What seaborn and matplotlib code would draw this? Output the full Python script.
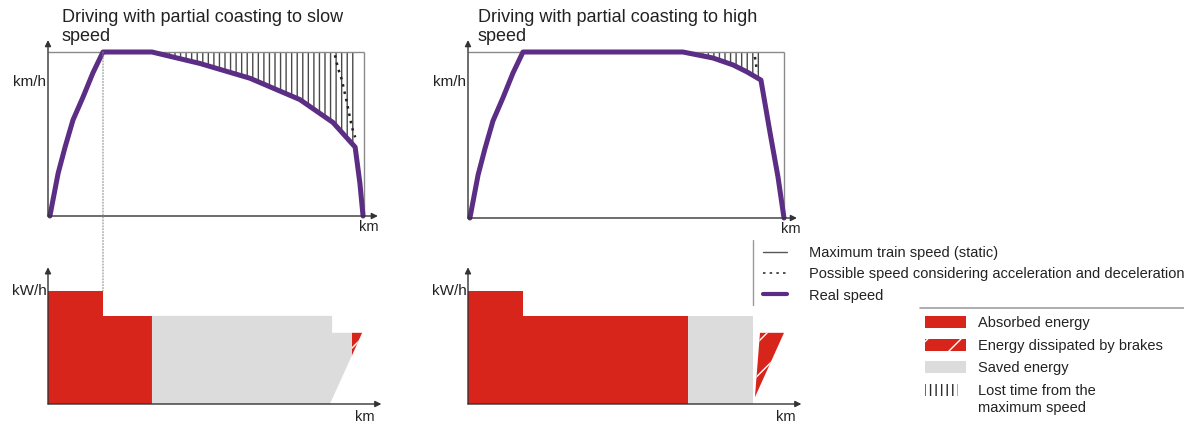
import matplotlib
matplotlib.use('Agg')
import matplotlib.pyplot as plt
from matplotlib.patches import Patch, ConnectionPatch, Rectangle
from matplotlib.lines import Line2D
from matplotlib.legend_handler import HandlerPatch
import numpy as np
import seaborn as sns

# speed profiles: distance (% of line length) vs speed (% of max speed)
slow_km = np.array([0.6, 1.6, 3.2, 5.4, 7.9, 11.1, 14.2, 17.4, 32.9, 48.1, 63.9,
                    79.7, 90.2, 97.2, 98.7, 99.7])
slow_kmh = np.array([0, 10, 26, 42, 58.5, 72.6, 87.2, 100, 100, 93, 84, 71, 57, 42, 20, 0])
fast_km = np.array([0.6, 1.6, 3.2, 5.4, 7.9, 11.1, 14.2, 17.4, 68.0, 77.5, 83.9,
                    88.3, 92.7, 95.6, 98.1, 100])
fast_kmh = np.array([0, 10, 26, 42, 58.5, 72.6, 87.2, 100, 100, 96.4, 92.2, 88, 83.1,
                     51.2, 24.7, 0])

# possible speed considering deceleration (dotted)
slow_dot_km = [90.8, 91.8, 93.0, 94.6, 96.2, 97.2]
slow_dot_kmh = [98, 90, 83, 69, 54, 48]
fast_dot_km = [90.8, 91.5]
fast_dot_kmh = [97, 88]

# coasting stretch (lost time hatching)
slow_coast = (32.9, 97.2)
fast_coast = (68.0, 92.7)

line_km = 100
v_max = 100

# energy diagrams (km, kW/h)
slow_absorbed_x = [0, 0, 17.4, 17.4, 32.9, 32.9]
slow_absorbed_y = [0, 100, 100, 78, 78, 0]
slow_saved_x = [32.9, 32.9, 89.9, 89.9, 96.2, 96.2, 89.2]
slow_saved_y = [0, 78, 78, 63, 63, 43, 0]
slow_brake_x = [96.2, 99.4, 96.2]
slow_brake_y = [63, 63, 43]

fast_absorbed_x = [0, 0, 17.4, 17.4, 69.6, 69.6]
fast_absorbed_y = [0, 100, 100, 78, 78, 0]
fast_saved_x = [69.6, 69.6, 90.2, 90.2]
fast_saved_y = [0, 78, 78, 0]
fast_brake_x = [92.4, 100, 90.8]
fast_brake_y = [63, 63, 6]

titles = [('Driving with partial coasting to slow', 'speed'),
          ('Driving with partial coasting to high', 'speed')]
speed_legend = ['Maximum train speed (static)',
                'Possible speed considering acceleration and deceleration',
                'Real speed']
energy_legend = ['Absorbed energy', 'Energy dissipated by brakes',
                 'Saved energy', 'Lost time from the\nmaximum speed']

purple = '#5b2d84'
red = '#d8251c'
grey_fill = '#dcdcdc'
box_grey = '#8a8a8a'
axis_col = '#333333'
text_col = '#222222'

sns.set_style('white')
plt.rcParams['font.family'] = ['Liberation Sans', 'DejaVu Sans']
plt.rcParams['hatch.linewidth'] = 1.0

W, H = 1184, 423
fig = plt.figure(figsize=(W / 100, H / 100), dpi=100)


def px_axes(x0, x1, y_top, y_bot):
    ax = fig.add_axes([x0 / W, 1 - y_bot / H, (x1 - x0) / W, (y_bot - y_top) / H])
    ax.set_xlim(0, 100)
    ax.set_ylim(0, 100)
    ax.axis('off')
    return ax


def arrows(ax, xtip, ytip):
    props = dict(arrowstyle='-|>', color=axis_col, lw=1.0, mutation_scale=9,
                 shrinkA=0, shrinkB=0)
    ax.annotate('', xy=(0, ytip), xytext=(0, 0), xycoords='axes fraction',
                arrowprops=props, annotation_clip=False)
    ax.annotate('', xy=(xtip, 0), xytext=(0, 0), xycoords='axes fraction',
                arrowprops=props, annotation_clip=False)


def speed_panel(ax, km, kmh, dot_km, dot_kmh, coast, ytip, xtip, km_pos):
    ax.hlines(v_max, 0, line_km, color=box_grey, lw=1.0, clip_on=False)
    ax.vlines(line_km, 0, v_max, color=box_grey, lw=1.0, clip_on=False)
    mask = (km >= coast[0]) & (km <= coast[1])
    ax.fill_between(km[mask], kmh[mask], v_max, facecolor='none',
                    edgecolor='#4a4a4a', hatch='|||', lw=0)
    sns.lineplot(x=dot_km, y=dot_kmh, ax=ax, color='#222222', lw=1.8,
                 linestyle=(0, (1, 2.0)), sort=False, estimator=None)
    sns.lineplot(x=km, y=kmh, ax=ax, color=purple, lw=3.6, sort=False,
                 estimator=None, clip_on=False)
    arrows(ax, xtip, ytip)
    ax.text(-0.006, 0.82, 'km/h', transform=ax.transAxes, ha='right',
            va='center', fontsize=11, color=text_col)
    ax.text(km_pos[0], km_pos[1], 'km', transform=ax.transAxes, ha='center',
            va='center', fontsize=10.5, color=text_col)


def energy_panel(ax, ab_x, ab_y, sv_x, sv_y, br_x, br_y, km_pos):
    ax.fill(ab_x, ab_y, color=red, lw=0)
    ax.fill(sv_x, sv_y, color=grey_fill, lw=0)
    ax.fill(br_x, br_y, facecolor=red, edgecolor='white', hatch='/', lw=0)
    arrows(ax, 1.055, 1.21)
    ax.text(-0.004, 1.0, 'kW/h', transform=ax.transAxes, ha='right',
            va='center', fontsize=11, color=text_col)
    ax.text(km_pos[0], km_pos[1], 'km', transform=ax.transAxes, ha='center',
            va='center', fontsize=10.5, color=text_col)


ax_tl = px_axes(48, 364, 52, 216)
ax_tr = px_axes(468, 784, 52, 218)
ax_bl = px_axes(48, 364, 291, 404)
ax_br = px_axes(468, 784, 291, 404)

speed_panel(ax_tl, slow_km, slow_kmh, slow_dot_km, slow_dot_kmh, slow_coast,
            1.073, 1.044, (1.016, -0.066))
speed_panel(ax_tr, fast_km, fast_kmh, fast_dot_km, fast_dot_kmh, fast_coast,
            1.072, 1.041, (1.022, -0.066))
energy_panel(ax_bl, slow_absorbed_x, slow_absorbed_y, slow_saved_x, slow_saved_y,
             slow_brake_x, slow_brake_y, (1.003, -0.115))
energy_panel(ax_br, fast_absorbed_x, fast_absorbed_y, fast_saved_x, fast_saved_y,
             fast_brake_x, fast_brake_y, (1.006, -0.115))

# end of acceleration linked between speed and energy diagrams
con = ConnectionPatch(xyA=(slow_km[7], v_max), coordsA=ax_tl.transData,
                      xyB=(slow_absorbed_x[2], slow_absorbed_y[2]), coordsB=ax_bl.transData,
                      linestyle=':', color='#8c8c8c', lw=0.8)
fig.add_artist(con)

for x0, (line1, line2) in zip([62, 478], titles):
    fig.text(x0 / W, 1 - 22 / H, line1, fontsize=13, color=text_col, va='baseline')
    fig.text(x0 / W, 1 - 41 / H, line2, fontsize=13, color=text_col, va='baseline')

# legends
h_speed = [Line2D([], [], color='#555555', lw=1.0),
           Line2D([], [], color='#333333', lw=1.2, linestyle=(0, (1.5, 2.5))),
           Line2D([], [], color=purple, lw=3.0)]
fig.legend(h_speed, speed_legend, loc='upper left',
           bbox_to_anchor=(763 / W, 1 - 246 / H), frameon=False, borderpad=0,
           borderaxespad=0, fontsize=10.5, handlelength=1.65, handletextpad=1.5,
           labelspacing=0.5, labelcolor=text_col)
fig.add_artist(Line2D([753 / W, 753 / W], [1 - 240 / H, 1 - 305 / H],
                      color='#9a9a9a', lw=1.0))


# handle of the two-line entry sits next to its first line
def raised_patch(legend, orig_handle, xdescent, ydescent, width, height, fontsize):
    return Rectangle((-xdescent, -ydescent + 0.65 * fontsize), 0.8 * width, height)


lost_handle = Patch(facecolor='white', edgecolor='#2a2a2a', hatch='|||', lw=0)
h_energy = [Patch(facecolor=red, lw=0),
            Patch(facecolor=red, edgecolor='white', hatch='/', lw=0),
            Patch(facecolor=grey_fill, lw=0),
            lost_handle]
leg = fig.legend(h_energy, energy_legend, loc='upper left',
                 bbox_to_anchor=(925 / W, 1 - 316 / H), frameon=False, borderpad=0,
                 borderaxespad=0, fontsize=10.5, handlelength=2.8, handleheight=0.9,
                 handletextpad=0.8, labelspacing=0.58, labelcolor=text_col,
                 handler_map={lost_handle: HandlerPatch(patch_func=raised_patch)})
for t in leg.get_texts():
    t.set_linespacing(1.3)
fig.add_artist(Line2D([920 / W, 1.0], [1 - 308 / H, 1 - 308 / H],
                      color='#a0a0a0', lw=1.2))

fig.savefig('out.png', dpi=100, facecolor='white')
